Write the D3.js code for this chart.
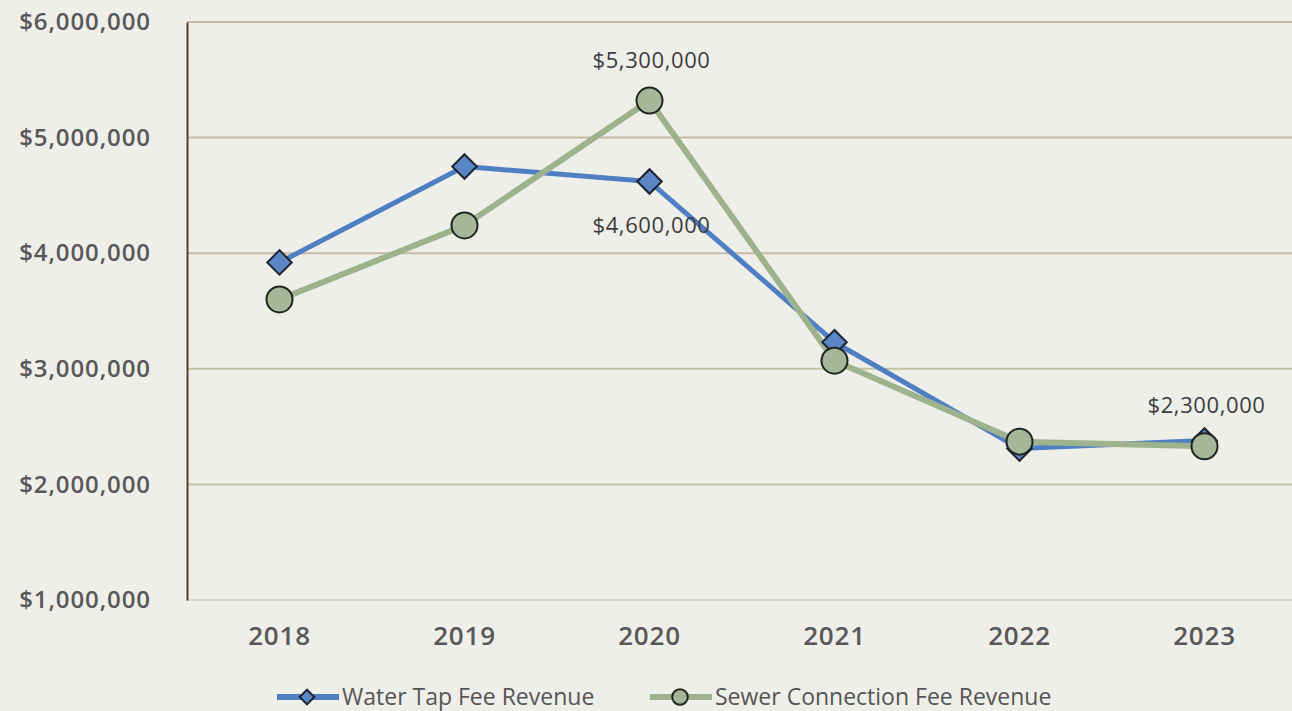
<!DOCTYPE html>
<html><head><meta charset="utf-8">
<script src="https://cdn.jsdelivr.net/npm/d3@7/dist/d3.min.js"></script>
<style>
html,body{margin:0;padding:0;background:#efefea;}
svg{display:block;}
</style></head>
<body>
<svg id="chart" width="1292" height="711"></svg>
<script>
const years = ["2018","2019","2020","2021","2022","2023"];
const waterTap = [3920000, 4750000, 4620000, 3230000, 2310000, 2380000];
const sewerConn = [3600000, 4240000, 5320000, 3070000, 2370000, 2330000];
const yTicks = [1000000, 2000000, 3000000, 4000000, 5000000, 6000000];
const seriesNames = ["Water Tap Fee Revenue", "Sewer Connection Fee Revenue"];
const dataLabels = [
  {series: 1, year: "2020", text: "$5,300,000", pos: "above"},
  {series: 0, year: "2020", text: "$4,600,000", pos: "below"},
  {series: 1, year: "2023", text: "$2,300,000", pos: "above"}
];

(function(){
const svg = d3.select("#chart");
const W = 1292, H = 711;
svg.append("rect").attr("width", W).attr("height", H).attr("fill", "#efefea");

const pL = 187, pR = 1297, pT = 22, pB = 600;
const x = d3.scaleBand().domain(years).range([pL, pR]);
const y = d3.scaleLinear().domain([1000000, 6000000]).range([pB, pT]);
const cx = d => x(d) + x.bandwidth() / 2;
const fmt = v => "$" + d3.format(",")(v);
const FF = "'Open Sans', sans-serif";

// gridlines
svg.append("g").selectAll("line").data(yTicks.filter(t => t > 1000000)).join("line")
  .attr("x1", pL).attr("x2", W).attr("y1", d => y(d)).attr("y2", d => y(d))
  .attr("stroke", d => d >= 4000000 ? "#c9b8a4" : "#c6c4a2").attr("stroke-width", 2);
svg.append("line").attr("x1", pL).attr("x2", W).attr("y1", y(1000000)).attr("y2", y(1000000))
  .attr("stroke", "#cfcfcb").attr("stroke-width", 1.5);

// y axis
const yAxis = d3.axisLeft(y).tickValues(yTicks).tickFormat(fmt).tickSize(0).tickPadding(36);
const ya = svg.append("g").attr("transform", `translate(${pL},0)`).call(yAxis);
ya.select(".domain").attr("stroke", "#5b3b2e").attr("stroke-width", 2);
ya.selectAll("text").attr("font-family", FF).attr("font-size", 24)
  .attr("font-weight", 600).attr("letter-spacing", 0.9).attr("fill", "#585858");

// x axis
const xAxis = d3.axisBottom(x).tickSize(0).tickPadding(27);
const xa = svg.append("g").attr("transform", `translate(0,${pB})`).call(xAxis);
xa.select(".domain").remove();
xa.selectAll("text").attr("font-family", FF).attr("font-size", 26)
  .attr("font-weight", 600).attr("letter-spacing", 0.8).attr("fill", "#585858");

const colors = ["#4f7ec2", "#9db28d"];
const fills = ["#5b86c6", "#a5b798"];
const allSeries = [waterTap, sewerConn];

const line = d3.line().x((d, i) => cx(years[i])).y(d => y(d));
allSeries.forEach((s, k) => {
  svg.append("path").datum(s).attr("d", line).attr("fill", "none")
    .attr("stroke", colors[k]).attr("stroke-width", k === 0 ? 5 : 6)
    .attr("stroke-linejoin", "round");
});

function drawMarker(g, k, px, py, scale) {
  if (k === 0) {
    g.append("path").attr("d", d3.symbol().type(d3.symbolSquare).size(300 * scale * scale)())
      .attr("transform", `translate(${px},${py}) rotate(45)`)
      .attr("fill", fills[0]).attr("stroke", "#1f2530").attr("stroke-width", 2);
  } else {
    g.append("circle").attr("cx", px).attr("cy", py).attr("r", 13 * scale)
      .attr("fill", fills[1]).attr("stroke", "#1f2620").attr("stroke-width", 2);
  }
}
allSeries.forEach((s, k) => {
  const g = svg.append("g");
  s.forEach((v, i) => drawMarker(g, k, cx(years[i]), y(v), 1));
});

// data labels
dataLabels.forEach(l => {
  const v = allSeries[l.series][years.indexOf(l.year)];
  svg.append("text").attr("x", cx(l.year) + 2).attr("y", y(v) + (l.pos === "above" ? -33 : 51))
    .attr("text-anchor", "middle").attr("font-family", FF)
    .attr("font-size", 22).attr("letter-spacing", 0.6).attr("fill", "#3c3c3c").text(l.text);
});

// legend
const legendItems = [{x: 277, k: 0}, {x: 650, k: 1}];
legendItems.forEach(li => {
  const g = svg.append("g");
  const ly = 697;
  g.append("line").attr("x1", li.x).attr("x2", li.x + 62).attr("y1", ly).attr("y2", ly)
    .attr("stroke", colors[li.k]).attr("stroke-width", 6);
  drawMarker(g, li.k, li.x + 30, ly, 0.6);
  g.append("text").attr("x", li.x + 65).attr("y", ly).attr("dy", "0.35em")
    .attr("font-family", FF).attr("font-size", 23)
    .attr("fill", "#555").text(seriesNames[li.k]);
});
})();
</script>
</body></html>
